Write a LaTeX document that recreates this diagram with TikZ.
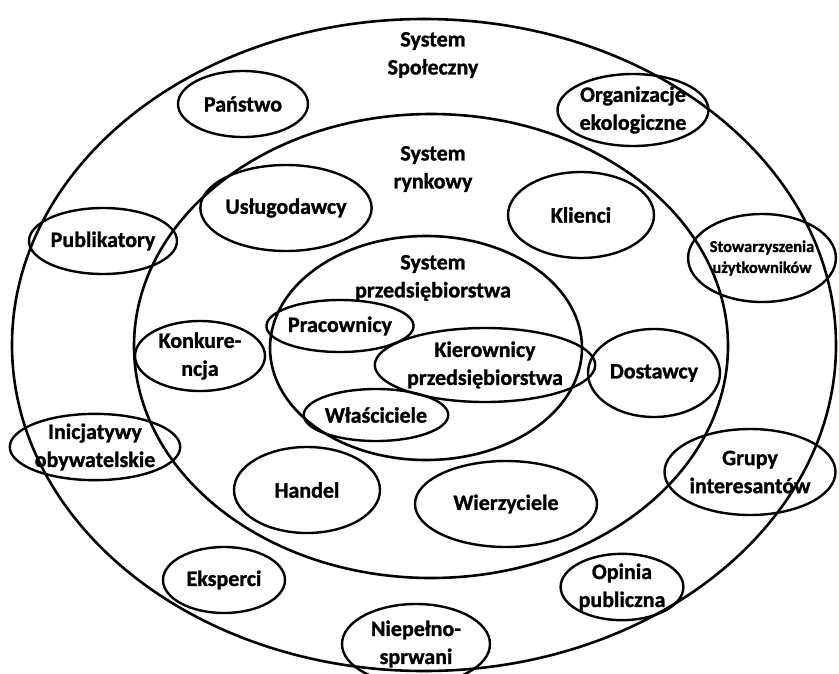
\documentclass[tikz,border=0pt]{standalone}
\usepackage{fontspec}
\setmainfont{Carlito}
\newfontfamily\heavyfont{Carlito Bold}[FakeBold=1.2]
\usetikzlibrary{shapes.geometric}
\begin{document}
\begin{tikzpicture}[x=1pt,y=-1pt,
  ring/.style={draw,ellipse,line width=2.6pt,inner sep=0pt},
  member/.style={draw,ellipse,line width=2.4pt,inner sep=0pt,align=center,
    font=\heavyfont\fontsize{22}{28}\selectfont},
  small/.style={font=\heavyfont\fontsize{16.5}{21}\selectfont},
  caption/.style={align=center,font=\heavyfont\fontsize{22}{28}\selectfont}]
\useasboundingbox (0,0) rectangle (839,673);

% three nested systems
\node[ring,minimum width=824pt,minimum height=652pt] (social) at (424,345) {};
\node[ring,minimum width=594pt,minimum height=464pt] (market) at (431,346) {};
\node[ring,minimum width=312pt,minimum height=224pt] (firm) at (426,348) {};

\node[caption] (socialtxt) at (433,55) {System\\Społeczny};
\node[caption] (markettxt) at (433,169) {System\\rynkowy};
\node[caption] (firmtxt) at (433,278) {System\\przedsiębiorstwa};

% social system
\node[member,minimum width=130pt,minimum height=66pt] (panstwo) at (243,104) {Państwo};
\node[member,minimum width=144pt,minimum height=72pt] (eko) at (633,110) {Organizacje\\ekologiczne};
\node[member,minimum width=126pt,minimum height=66pt] (publ) at (103,241) {Publikatory};
\node[member,small,minimum width=130pt,minimum height=88pt] (stow) at (762,258) {Stowarzyszenia\\użytkowników};
\node[member,minimum width=124pt,minimum height=60pt] (inic) at (95,447) {Inicjatywy\\obywatelskie};
\node[member,minimum width=134pt,minimum height=86pt] (grupy) at (750,472) {Grupy\\interesantów};
\node[member,minimum width=122pt,minimum height=66pt] (eksp) at (224,580) {Eksperci};
\node[member,minimum width=122pt,minimum height=66pt] (opinia) at (622,587) {Opinia\\publiczna};
\node[member,minimum width=148pt,minimum height=80pt] (niep) at (416,644) {Niepełno-\\sprwani};

% market system
\node[member,minimum width=144pt,minimum height=86pt] (uslug) at (286,208) {Usługodawcy};
\node[member,minimum width=146pt,minimum height=86pt] (klienci) at (581,215) {Klienci};
\node[member,minimum width=130pt,minimum height=70pt] (konk) at (200,356) {Konkure-\\ncja};
\node[member,minimum width=132pt,minimum height=88pt] (dost) at (654,373) {Dostawcy};
\node[member,minimum width=146pt,minimum height=86pt] (handel) at (307,490) {Handel};
\node[member,minimum width=182pt,minimum height=86pt] (wierz) at (506,504) {Wierzyciele};

% firm system
\node[member,minimum width=124pt,minimum height=52pt] (prac) at (340,326) {Pracownicy};
\node[member,minimum width=180pt,minimum height=74pt] (kier) at (485,365) {Kierownicy\\przedsiębiorstwa};
\node[member,minimum width=138pt,minimum height=52pt] (wlasc) at (376,415) {Właściciele};
\end{tikzpicture}
\end{document}
